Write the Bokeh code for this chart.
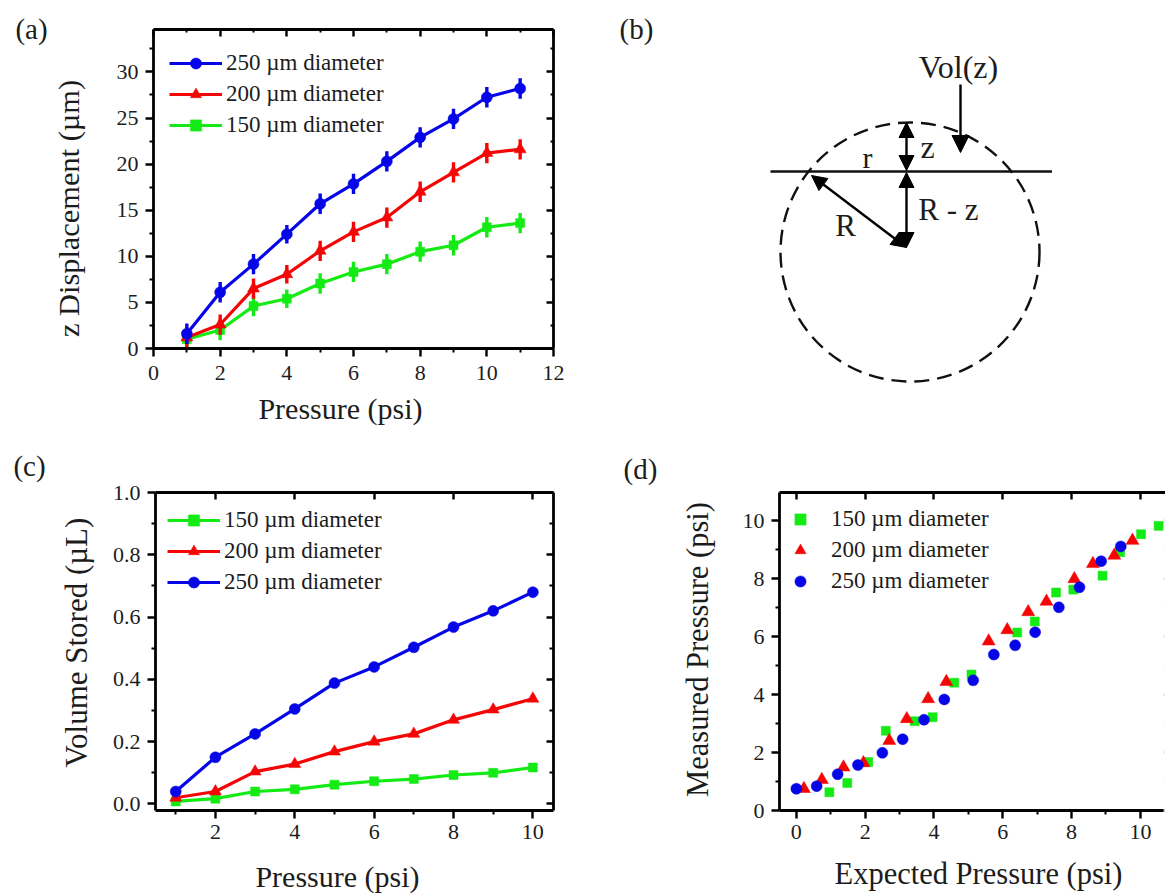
import math
from bokeh.plotting import figure
from bokeh.layouts import column, row
from bokeh.models import (Range1d, LinearAxis, FixedTicker, Legend, LegendItem, Label, Arrow, NormalHead, NumeralTickFormatter)
from bokeh.embed import file_html
from bokeh.resources import INLINE

FONT = "Liberation Serif"
INK = "#1c1c1c"
BLUE, RED, GREEN = "#0505e8", "#f50505", "#14ea14"

# panel (a)
a_x = [1, 2, 3, 4, 5, 6, 7, 8, 9, 10, 11]
a_250 = [1.6, 6.1, 9.15, 12.4, 15.7, 17.85, 20.3, 22.9, 24.9, 27.25, 28.2]
a_200 = [1.2, 2.6, 6.5, 8.05, 10.6, 12.65, 14.2, 17.0, 19.1, 21.2, 21.6]
a_150 = [1.0, 2.0, 4.6, 5.4, 7.05, 8.3, 9.15, 10.5, 11.2, 13.15, 13.6]
a_err = [1.1, 1.1, 1.1, 1.0, 1.1, 1.1, 1.1, 1.1, 1.1, 1.1, 1.1]

# panel (c)
c_x = [1, 2, 3, 4, 5, 6, 7, 8, 9, 10]
c_250 = [.04, .15, .225, .305, .388, .44, .503, .568, .62, .68]
c_200 = [.02, .04, .104, .128, .168, .2, .225, .27, .303, .338]
c_150 = [.008, .017, .04, .047, .062, .073, .08, .093, .1, .117]

# panel (d)
d_150_x = [.96, 1.48, 2.09, 2.60, 3.44, 3.96, 4.59, 5.09, 6.42, 6.93, 7.55, 8.05, 8.90, 9.41, 10.02, 10.53]
d_150_y = [.63, .95, 1.67, 2.75, 3.08, 3.22, 4.41, 4.69, 6.14, 6.52, 7.52, 7.62, 8.10, 8.91, 9.53, 9.82]
d_200_x = [.22, .74, 1.37, 1.95, 2.70, 3.21, 3.83, 4.36, 5.59, 6.13, 6.74, 7.27, 8.08, 8.62, 9.24, 9.77]
d_200_y = [.75, 1.06, 1.49, 1.64, 2.41, 3.16, 3.85, 4.44, 5.84, 6.23, 6.85, 7.21, 7.99, 8.51, 8.80, 9.31]
d_250_x = [0, .59, 1.20, 1.79, 2.50, 3.09, 3.71, 4.30, 5.14, 5.74, 6.36, 6.94, 7.63, 8.23, 8.86, 9.43]
d_250_y = [.75, .84, 1.25, 1.57, 1.99, 2.46, 3.13, 3.83, 4.49, 5.38, 5.70, 6.15, 7.01, 7.70, 8.60, 9.11]

L150, L200, L250 = "150 \u00b5m diameter", "200 \u00b5m diameter", "250 \u00b5m diameter"


def ticks(major, minor):
    return FixedTicker(ticks=major, minor_ticks=minor)


def style_axis(ax, tick_in, tick_out, minor_in, minor_out):
    ax.axis_line_width = 2.8
    ax.axis_line_color = "black"
    ax.major_tick_line_width = 2.4
    ax.minor_tick_line_width = 2.0
    ax.major_tick_line_color = "black"
    ax.minor_tick_line_color = "black"
    ax.major_tick_in = tick_in
    ax.major_tick_out = tick_out
    ax.minor_tick_in = minor_in
    ax.minor_tick_out = minor_out
    ax.major_label_text_font = FONT
    ax.major_label_text_font_size = "22px"
    ax.major_label_text_color = INK


def mirror(p, side, major, minor, line=True, in_major=7, in_minor=3, color="black"):
    ax = LinearAxis(ticker=ticks(major, minor), major_label_overrides={v: "" for v in major})
    style_axis(ax, in_major, 0, in_minor, 0)
    ax.major_label_text_font_size = "1px"
    ax.major_label_standoff = 0
    ax.major_tick_line_color = color
    ax.minor_tick_line_color = color
    if not line:
        ax.axis_line_color = None
    p.add_layout(ax, side)


def panel(w, h, l, t, r, b, xr, yr, xmaj, xmin, ymaj, ymin, xtick_standoff, ytick_standoff=7):
    p = figure(width=w, height=h, x_range=Range1d(*xr), y_range=Range1d(*yr), output_backend="svg",
               toolbar_location=None, min_border_left=l, min_border_top=t, min_border_right=r, min_border_bottom=b,
               tools="")
    p.grid.visible = False
    p.xaxis[0].ticker = ticks(xmaj, xmin)
    p.yaxis[0].ticker = ticks(ymaj, ymin)
    style_axis(p.xaxis[0], 0, 8, 0, 4)
    style_axis(p.yaxis[0], 0, 8, 0, 4)
    p.xaxis[0].major_label_standoff = xtick_standoff
    p.yaxis[0].major_label_standoff = ytick_standoff
    p.outline_line_color = None
    p.background_fill_color = None
    p.border_fill_color = None
    return p


def blank(x0, x1, y0, y1):
    # a borderless figure whose ranges are page pixels
    p = figure(width=x1 - x0, height=y1 - y0, x_range=Range1d(x0, x1), y_range=Range1d(y1, y0), output_backend="svg",
               toolbar_location=None, min_border=0, tools="")
    p.axis.visible = False
    p.grid.visible = False
    p.outline_line_color = None
    return p


def add_text(p, text, x, y, size, angle=0.0):
    p.add_layout(Label(x=x, y=y, text=text, text_font=FONT, text_font_size=size, text_color=INK, angle=angle,
                       text_align="center", text_baseline="middle"))


def series(p, x, y, color, marker, size, err=None):
    if err is not None:
        p.segment(x, [v - e for v, e in zip(y, err)], x, [v + e for v, e in zip(y, err)], line_color=color, line_width=3.4)
    ln = p.line(x, y, line_color=color, line_width=3.2)
    mk = p.scatter(x, y, marker=marker, size=size, fill_color=color, line_color=color, line_width=0.5)
    return [ln, mk]


def add_legend(p, entries, loc, gw, stand, size="23px"):
    items = [LegendItem(label=lbl, renderers=rs) for lbl, rs in entries]
    lg = Legend(items=items, location=loc, orientation="vertical", background_fill_alpha=0, border_line_color=None,
                padding=0, margin=0, spacing=3, glyph_width=gw, glyph_height=28, label_height=28, label_standoff=stand,
                label_text_font=FONT, label_text_font_size=size, label_text_color=INK, label_text_baseline="middle")
    p.add_layout(lg, "center")


UP = math.pi / 2

# (a)
ax_maj, ax_min = [0, 2, 4, 6, 8, 10, 12], [1, 3, 5, 7, 9, 11]
ay_maj, ay_min = [0, 5, 10, 15, 20, 25, 30], [2.5, 7.5, 12.5, 17.5, 22.5, 27.5, 32.5]
pa = panel(493, 392, 56, 29, 37, 44, (0, 12), (0, 34.6), ax_maj, ax_min, ay_maj, ay_min, 9)
mirror(pa, "above", ax_maj, ax_min)
mirror(pa, "right", ay_maj, ay_min)
r150 = series(pa, a_x, a_150, GREEN, "square", 9, a_err)
r200 = series(pa, a_x, a_200, RED, "triangle", 12, a_err)
r250 = series(pa, a_x, a_250, BLUE, "circle", 11, a_err)
add_legend(pa, [(L250, r250), (L200, r200), (L150, r150)], (16, 209), 53, 4)
tag_a = blank(0, 97, 0, 440)
add_text(tag_a, "(a)", 31, 28, "29px")
add_text(tag_a, "z Displacement (\u00b5m)", 68, 208, "30.4px", UP)
foot_a = blank(97, 590, 392, 440)
add_text(foot_a, "Pressure (psi)", 340, 408, "30px")

# (b)  diagram geometry in page pixels
circle_cx, circle_cy, circle_r = 909.5, 251.5, 129.5
chord_x, chord_y = [770, 1051.5], [171, 171]
center_x, center_y = 906, 247
pb = blank(590, 1165, 0, 440)
pb.circle([circle_cx], [circle_cy], radius=circle_r, fill_color=None, line_color="#111111", line_width=2.4, line_dash="15 8")
pb.line(chord_x, chord_y, line_color="#111111", line_width=2.4)


def arrow(p, x0, y0, x1, y1, both=True, size=15):
    head = NormalHead(size=size, fill_color="black", line_color="black", line_width=1)
    kw = dict(end=head, x_start=x0, y_start=y0, x_end=x1, y_end=y1, line_color="black", line_width=2.4)
    kw["start"] = NormalHead(size=size, fill_color="black", line_color="black", line_width=1) if both else None
    p.add_layout(Arrow(**kw))


arrow(pb, center_x, circle_cy - circle_r, center_x, chord_y[0] - 1)
arrow(pb, center_x, chord_y[0] + 1, center_x, center_y)
arrow(pb, 811, 175, center_x, center_y)
arrow(pb, 960, 84, 960, 152, both=False, size=17)

add_text(pb, "(b)", 636, 28, "29px")
add_text(pb, "Vol(z)", 958, 66, "32px")
add_text(pb, "r", 867, 157, "30px")
add_text(pb, "z", 927, 146, "32px")
add_text(pb, "R - z", 948, 209, "31px")
add_text(pb, "R", 845, 225, "31px")

# (c)
cx_maj, cx_min = [2, 4, 6, 8, 10], [1, 3, 5, 7, 9]
cy_maj, cy_min = [0, .2, .4, .6, .8, 1.0], [.1, .3, .5, .7, .9]
pc = panel(493, 412, 58, 52, 37, 42, (0.49, 10.52), (-0.021, 1.0), cx_maj, cx_min, cy_maj, cy_min, 6)
pc.yaxis[0].formatter = NumeralTickFormatter(format="0.0")
mirror(pc, "above", cx_maj, [])
mirror(pc, "right", cy_maj, cy_min, in_minor=4)
s150 = series(pc, c_x, c_150, GREEN, "square", 9)
s200 = series(pc, c_x, c_200, RED, "triangle", 12)
s250 = series(pc, c_x, c_250, BLUE, "circle", 11)
add_legend(pc, [(L150, s150), (L200, s200), (L250, s250)], (12, 214), 53, 4)
tag_c = blank(0, 97, 440, 894)
add_text(tag_c, "(c)", 29, 465, "29px")
add_text(tag_c, "Volume Stored (\u00b5L)", 76, 642, "31px", UP)
foot_c = blank(97, 590, 852, 894)
add_text(foot_c, "Pressure (psi)", 337, 876, "30px")

# (d)
dx_maj, dx_min = [0, 2, 4, 6, 8, 10], [1, 3, 5, 7, 9]
dy_maj, dy_min = [0, 2, 4, 6, 8, 10], [1, 3, 5, 7, 9]
pd_ = panel(445, 412, 59, 52, 0, 42, (-0.49, 10.73), (0, 10.97), dx_maj, dx_min, dy_maj, dy_min, 6)
mirror(pd_, "above", dx_maj, [])
mirror(pd_, "right", dy_maj, dy_min, line=False, in_major=2, in_minor=1, color="#e4e4e4")
m150 = pd_.scatter(d_150_x, d_150_y, marker="square", size=9, fill_color=GREEN, line_color=GREEN, line_width=0.5)
m200 = pd_.scatter(d_200_x, d_200_y, marker="triangle", size=13, fill_color=RED, line_color=RED, line_width=0.5)
m250 = pd_.scatter(d_250_x, d_250_y, marker="circle", size=11, fill_color=BLUE, line_color=BLUE, line_width=0.5)
add_legend(pd_, [(L150, [m150]), (L200, [m200]), (L250, [m250])], (7, 215), 28, 17)
tag_d = blank(590, 720, 440, 894)
add_text(tag_d, "(d)", 640, 468, "29px")
add_text(tag_d, "Measured Pressure (psi)", 697, 649, "30.5px", UP)
foot_d = blank(720, 1165, 852, 894)
add_text(foot_d, "Expected Pressure (psi)", 978, 873, "30.5px")


def box(*figs):
    # a stack of figures, each in a box of its own, so that each frame keeps its own size
    return column(*[column(f, spacing=0) for f in figs], spacing=0)


page = column(row(box(tag_a), box(pa, foot_a), box(pb), spacing=0),
              row(box(tag_c), box(pc, foot_c), box(tag_d), box(pd_, foot_d), spacing=0), spacing=0)
open("out.html", "w").write(file_html(page, INLINE))
